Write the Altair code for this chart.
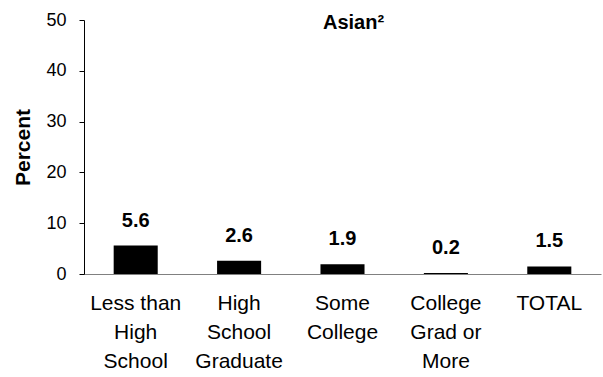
import altair as alt
import pandas as pd

categories = ["Less than|High|School", "High|School|Graduate", "Some|College", "College|Grad or|More", "TOTAL"]
values = [5.6, 2.6, 1.9, 0.2, 1.5]
y_ticks = [0, 10, 20, 30, 40, 50]

df = pd.DataFrame({"cat": categories, "val": values})
FONT = "Liberation Sans"

x = alt.X("cat:N", sort=categories, title=None,
          scale=alt.Scale(paddingInner=0.574, paddingOuter=0.287),
          axis=alt.Axis(labelAngle=0, ticks=False, labelExpr="split(datum.label, '|')",
                        labelFont=FONT, labelFontSize=21, labelColor="black",
                        labelLineHeight=29, labelPadding=18, labelBaseline="top",
                        domainColor="#808080", labelLimit=200))
y = alt.Y("val:Q", title="Percent",
          scale=alt.Scale(domain=[0, 50], nice=False),
          axis=alt.Axis(values=y_ticks, grid=False, labelFont=FONT, labelFontSize=18,
                        labelColor="black", labelPadding=13, tickSize=5, tickColor="black",
                        domainColor="black", titleFont=FONT, titleFontSize=21,
                        titleFontWeight="bold", titleColor="black", titlePadding=12))

bars = alt.Chart(df).mark_bar(color="black").encode(x=x, y=y)
text = alt.Chart(df).mark_text(font=FONT, fontSize=20, fontWeight="bold",
                               baseline="alphabetic", dy=-19, color="black").encode(
    x=alt.X("cat:N", sort=categories), y="val:Q", text=alt.Text("val:Q", format=".1f"))

chart = (bars + text).properties(
    width=517, height=254,
    autosize=alt.AutoSizeParams(type="none"),
    padding={"left": 84, "top": 20, "right": 2, "bottom": 103},
    title=alt.Title("Asian²", font=FONT, fontSize=20, fontWeight="bold", color="black",
                    anchor="middle", frame="group", baseline="alphabetic", offset=0,
                    dy=38, dx=11),
).configure_view(stroke=None)

chart.save("out.html", embed_options={"renderer": "svg", "actions": False})
